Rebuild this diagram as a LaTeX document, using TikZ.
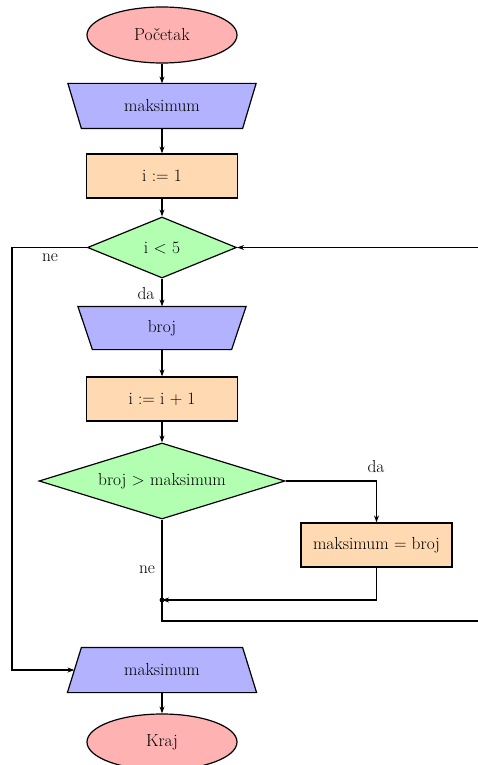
\documentclass[tikz,border=0pt]{standalone}
\usetikzlibrary{shapes.geometric,arrows.meta,backgrounds}
\begin{document}
\begin{tikzpicture}[x=1pt,y=-1pt,line width=1.2pt,
  every node/.style={font=\fontsize{17.4}{21}\selectfont, inner sep=0pt},
  term/.style={ellipse, draw, fill=red!30, minimum width=150, minimum height=56},
  iobox/.style={rectangle},
  iofill/.style={draw, fill=blue!30, line width=1.2pt, line join=miter},
  proc/.style={rectangle, draw, fill=orange!30, minimum width=151, minimum height=44},
  dec/.style={diamond, draw, fill=green!30},
  arr/.style={-{Stealth[length=7pt,width=5pt]}},
  lbl/.style={font=\fontsize{17.4}{21}\selectfont}]
\clip (0,0) rectangle (478,765);
\node[term] (start) at (162,35) {Početak};
\node[iobox, minimum width=173.5, minimum height=44] (in1) at (162,106) {maksimum};
\node[proc] (init) at (162,176) {i $:=$ 1};
\node[dec, minimum width=149, minimum height=61, shape aspect=2.44] (cond1) at (162,247.5) {i $<$ 5};
\node[iobox, minimum width=152.5, minimum height=42] (in2) at (162,328) {broj};
\node[proc] (inc) at (162,399) {i $:=$ i $+$ 1};
\node[dec, minimum width=246, minimum height=76, shape aspect=3.2] (cond2) at (162,481) {broj $>$ maksimum};
\node[proc] (upd) at (376.5,545) {maksimum $=$ broj};
\coordinate (dot) at (162,600);
\node[iobox, minimum width=174, minimum height=44] (out) at (162,670) {maksimum};
\node[term] (end) at (162,742) {Kraj};
\begin{scope}[on background layer]
\fill[white] (0,0) rectangle (478,765);
\draw[iofill] ([xshift=-6.75pt]in1.north west) -- ([xshift=6.75pt]in1.north east)
  -- ([xshift=-6.75pt]in1.south east) -- ([xshift=6.75pt]in1.south west) -- cycle;
\draw[iofill] ([xshift=-7.25pt]in2.north west) -- ([xshift=7.25pt]in2.north east)
  -- ([xshift=-7.25pt]in2.south east) -- ([xshift=7.25pt]in2.south west) -- cycle;
\draw[iofill] ([xshift=7pt]out.north west) -- ([xshift=-7pt]out.north east)
  -- ([xshift=7pt]out.south east) -- ([xshift=-7pt]out.south west) -- cycle;
\end{scope}
\coordinate (rc) at (490,621);
\coordinate (lc) at (12,247.5);
\draw[arr] (start) -- (in1);
\draw[arr] (in1) -- (init);
\draw[arr] (init) -- (cond1);
\draw[arr] (cond1) -- (in2);
\draw[arr] (in2) -- (inc);
\draw[arr] (inc) -- (cond2);
\draw[arr] (cond2.east) -| (upd.north);
\draw[arr] (upd.south) |- (dot);
\draw (cond2.south) -- (dot);
\draw[arr] (dot) |- (rc) |- (cond1.east);
\draw[arr] (cond1.west) -- (lc) |- (out.west);
\draw[arr] (out) -- (end);
\fill (dot) circle (2.4);
\node[lbl] (l1) at (146,294) {da};
\node[lbl] (l2) at (50,258) {ne};
\node[lbl] (l3) at (376,467) {da};
\node[lbl] (l4) at (147,570) {ne};
\end{tikzpicture}
\end{document}
